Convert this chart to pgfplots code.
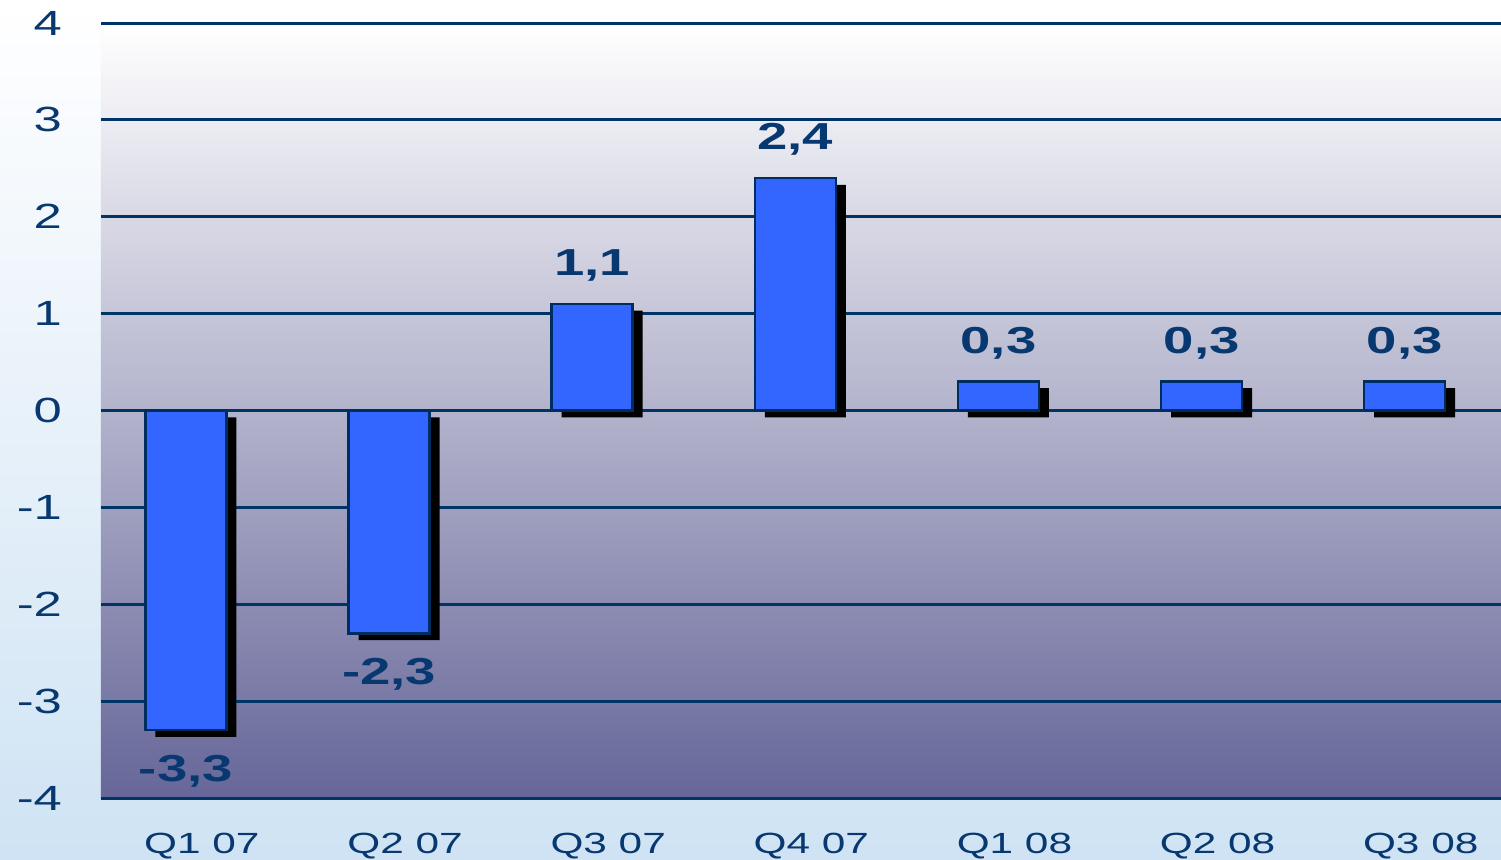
\documentclass[border=0pt]{standalone}
\usepackage{pgfplots}
\pgfplotsset{compat=1.18}
\usepackage{fontspec}
\setmainfont{Liberation Sans}[FakeStretch=1.45]
\definecolor{navy}{RGB}{8,56,112}
\definecolor{gridnavy}{RGB}{0,51,102}
\definecolor{barblue}{RGB}{51,102,255}
\definecolor{baredge}{RGB}{0,45,95}
\definecolor{plotbot}{RGB}{102,102,153}
\definecolor{plotmid}{RGB}{202,201,216}
\definecolor{outerbot}{RGB}{207,227,244}
\pgfplotstableread{
x y lab
0 -3.3 -3,3
1 -2.3 -2,3
2 1.1 1,1
3 2.4 2,4
4 0.3 0,3
5 0.3 0,3
6 0.3 0,3
}\mydata
\begin{document}
\begin{tikzpicture}
\shade[top color=white, middle color=white, bottom color=outerbot] (-50.5pt,-30.5pt) rectangle (700pt,399pt);
\begin{axis}[
  at={(0,0)}, anchor=south west,
  scale only axis, width=700pt, height=387.5pt,
  xmin=-0.418, xmax=6.474, ymin=-4, ymax=4,
  axis background/.style={shade, top color=white, middle color=plotmid, bottom color=plotbot},
  ytick={-4,-3,...,4},
  xtick={0,...,6},
  xticklabels={Q1 07,Q2 07,Q3 07,Q4 07,Q1 08,Q2 08,Q3 08},
  major tick length=0pt,
  ymajorgrids, xmajorgrids=false,
  grid style={draw=gridnavy, line width=1.5pt},
  yticklabel style={font=\fontsize{17.5}{20}\selectfont, text=navy, anchor=east, xshift=-16pt},
  yticklabel={\pgfmathprintnumber[assume math mode=true]{\tick}},
  xticklabel style={font=\fontsize{14.6}{17}\selectfont, text=navy, anchor=north, xshift=8pt, yshift=-14pt},
  axis line style={draw=none},
  clip=false,
]
\addplot[ybar, bar width=40.5pt, fill=barblue, draw=baredge, line width=1.2pt,
  preaction={fill=black, draw=none, transform canvas={xshift=5pt, yshift=-3.4pt}},
  point meta=explicit symbolic,
  visualization depends on={\thisrow{y} \as \rawy},
  nodes near coords,
  every node near coord/.append style={font=\fontsize{18.8}{21}\selectfont\bfseries, text=navy, anchor=center, yshift={(19.2-39.5*(\rawy<0))*1pt}},
] table[x=x, y=y, meta=lab] {\mydata};
\end{axis}
\pgfresetboundingbox
\path (-50.5pt,-30.5pt) rectangle (700pt,399pt);
\end{tikzpicture}
\end{document}
